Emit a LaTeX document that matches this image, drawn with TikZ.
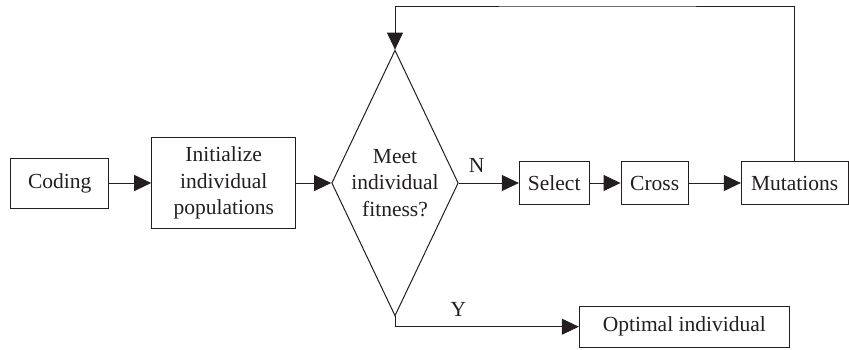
\documentclass[tikz,border=0pt]{standalone}
\usepackage{fontspec}
\setmainfont{Liberation Serif}
\usetikzlibrary{arrows.meta,shapes.geometric}
\definecolor{ink}{HTML}{231F20}
\begin{document}
\begin{tikzpicture}[x=1pt,y=-1pt,
  every node/.style={font=\fontsize{21.5}{26.7}\selectfont, text=ink},
  box/.style={draw=ink, line width=1pt, inner sep=0pt, align=center},
  flow/.style={draw=ink, line width=1pt, -{Triangle[length=17pt,width=16pt]}}]
\useasboundingbox (0,0) rectangle (849,349);

% process boxes
\node[box, minimum width=97.7pt, minimum height=50pt] (cod) at (59.7,183) {Coding};
\node[box, minimum width=144pt, minimum height=90.7pt] (ini) at (223.7,183) {Initialize\\individual\\populations};
\node[box, minimum width=69.7pt, minimum height=43pt] (sel) at (554.2,183) {Select};
\node[box, minimum width=67.3pt, minimum height=43pt] (crs) at (654.7,183) {Cross};
\node[box, minimum width=106.7pt, minimum height=43pt] (mut) at (794.7,183) {Mutations};
\node[box, minimum width=210pt, minimum height=41.3pt] (opt) at (684.3,326.7) {Optimal individual};

% decision
\node[diamond, draw=ink, line width=1pt, inner sep=0pt,
      minimum width=126.6pt, minimum height=265.7pt] (dec) at (395,183) {};
\node[align=center] (dectext) at (dec.center) {Meet\\individual\\fitness?};

% branch labels
\node (lN) at (476.7,165.7) {N};
\node (lY) at (458.3,309.3) {Y};
\coordinate (fb) at (600,6);

% connectors
\draw[flow] (cod.east) -- (ini.west);
\draw[flow] (ini.east) -- (dec.west);
\draw[flow] (dec.east) -- (sel.west);
\draw[flow] (sel.east) -- (crs.west);
\draw[flow] (crs.east) -- (mut.west);
\draw[flow] (mut.north) |- (fb) -| (dec.north);
\draw[flow] (dec.south) |- (opt.west);
\end{tikzpicture}
\end{document}
